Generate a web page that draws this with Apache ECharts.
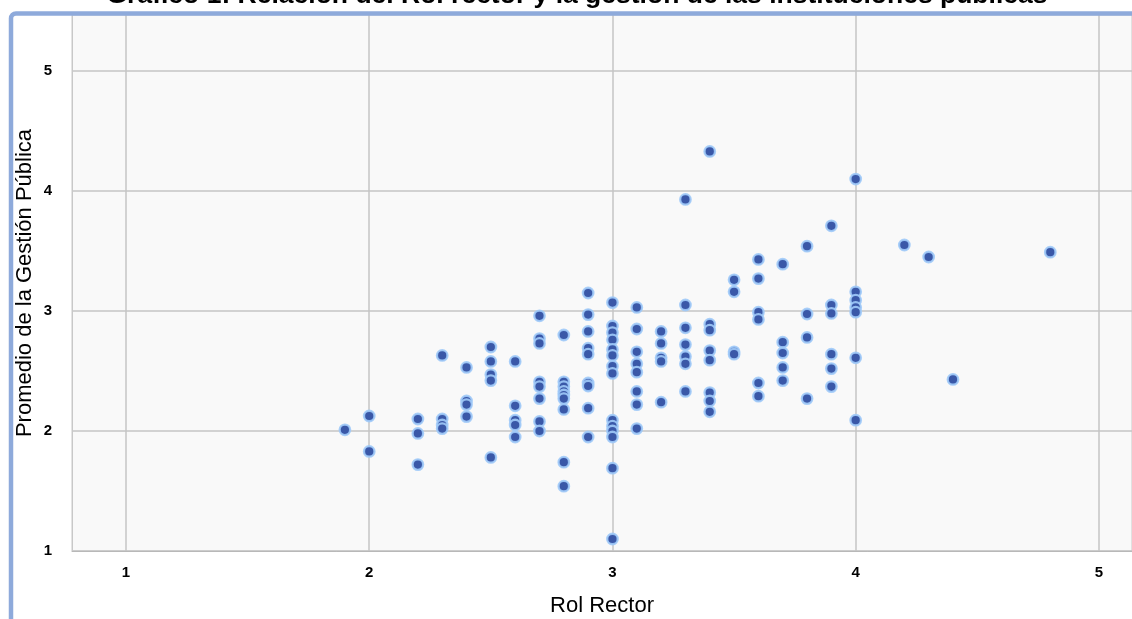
<!DOCTYPE html>
<html>
<head>
<meta charset="utf-8">
<script src="https://cdn.jsdelivr.net/npm/echarts@6/dist/echarts.min.js"></script>
<style>
  html, body { margin: 0; padding: 0; background: #ffffff; }
  #chart { width: 1132px; height: 619px; }
</style>
</head>
<body>
<div id="chart"></div>
<script>
// Rol Rector (x) and Promedio de la Gestión Pública (y)
const rolRector = [
  1.9,
  2.0, 2.0,
  2.2, 2.2, 2.2,
  2.3, 2.3, 2.3, 2.3,
  2.4, 2.4, 2.4, 2.4,
  2.5, 2.5, 2.5, 2.5, 2.5,
  2.6, 2.6, 2.6, 2.6, 2.6,
  2.7, 2.7, 2.7, 2.7, 2.7, 2.7, 2.7, 2.7,
  2.8, 2.8, 2.8, 2.8, 2.8, 2.8, 2.8, 2.8, 2.8,
  2.9, 2.9, 2.9, 2.9, 2.9, 2.9, 2.9, 2.9, 2.9,
  3.0, 3.0, 3.0, 3.0, 3.0, 3.0, 3.0, 3.0, 3.0, 3.0, 3.0, 3.0, 3.0, 3.0,
  3.1, 3.1, 3.1, 3.1, 3.1, 3.1, 3.1, 3.1,
  3.2, 3.2, 3.2, 3.2, 3.2,
  3.3, 3.3, 3.3, 3.3, 3.3, 3.3, 3.3,
  3.4, 3.4, 3.4, 3.4, 3.4, 3.4, 3.4, 3.4,
  3.5, 3.5, 3.5, 3.5,
  3.6, 3.6, 3.6, 3.6, 3.6, 3.6,
  3.7, 3.7, 3.7, 3.7, 3.7,
  3.8, 3.8, 3.8, 3.8,
  3.9, 3.9, 3.9, 3.9, 3.9, 3.9,
  4.0, 4.0, 4.0, 4.0, 4.0, 4.0, 4.0,
  4.2, 4.3, 4.4, 4.8
];
const gestionPublica = [
  2.01,
  2.125, 1.83,
  2.10, 1.98, 1.72,
  2.63, 2.10, 2.05, 2.02,
  2.53, 2.25, 2.22, 2.12,
  2.70, 2.58, 2.47, 2.42, 1.78,
  2.58, 2.21, 2.09, 2.05, 1.95,
  2.96, 2.77, 2.73, 2.41, 2.37, 2.27, 2.08, 2.00,
  2.80, 2.41, 2.37, 2.33, 2.30, 2.27, 2.18, 1.74, 1.54,
  3.15, 2.97, 2.83, 2.69, 2.64, 2.40, 2.375, 2.19, 1.95,
  3.07, 2.875, 2.82, 2.76, 2.68, 2.63, 2.54, 2.48, 2.09, 2.04, 2.00, 1.95, 1.69, 1.10,
  3.03, 2.85, 2.66, 2.56, 2.49, 2.33, 2.22, 2.02,
  2.83, 2.73, 2.61, 2.58, 2.24,
  3.93, 3.05, 2.86, 2.72, 2.62, 2.56, 2.33,
  4.33, 2.89, 2.84, 2.67, 2.59, 2.32, 2.25, 2.16,
  3.26, 3.16, 2.66, 2.64,
  3.43, 3.27, 2.99, 2.93, 2.40, 2.29,
  3.39, 2.74, 2.65, 2.53, 2.42,
  3.54, 2.975, 2.78, 2.27,
  3.71, 3.05, 2.98, 2.64, 2.52, 2.37,
  4.10, 3.16, 3.09, 3.03, 2.99, 2.61, 2.09,
  3.55, 3.45, 2.43, 3.49
];
const xTicks = [1, 2, 3, 4, 5];
const yTicks = [1, 2, 3, 4, 5];

const chartTitle = 'Gráfico 1: Relación del Rol rector y la gestión de las instituciones públicas';
const xName = 'Rol Rector';
const yName = 'Promedio de la Gestión Pública';

const points = rolRector.map((x, i) => [x, gestionPublica[i]]);

const chart = echarts.init(document.getElementById('chart'), null, { renderer: 'canvas' });
const fontFamily = '"Liberation Sans", Arial, sans-serif';

chart.setOption({
  backgroundColor: '#ffffff',
  animation: false,
  graphic: [
    {
      type: 'text',
      z: 100,
      x: 577,
      y: -4,
      style: {
        text: chartTitle,
        align: 'center',
        verticalAlign: 'middle',
        font: 'bold 26.5px "Liberation Sans", Arial, sans-serif',
        fill: '#000'
      }
    },
    {
      type: 'rect',
      z: 100,
      shape: { x: 11, y: 13.5, width: 1300, height: 800, r: 5 },
      style: { fill: 'none', stroke: '#8eaadb', lineWidth: 4.5 }
    }
  ],
  grid: {
    left: 72, right: 0, top: 15, bottom: 68,
    outerBoundsMode: 'none',
    containLabel: false,
    show: true,
    backgroundColor: '#f9f9f9',
    borderColor: '#c8c8c8',
    borderWidth: 1
  },
  xAxis: {
    type: 'value',
    min: 0.778,
    max: 5.136,
    name: xName,
    nameLocation: 'middle',
    nameGap: 44,
    nameMoveOverlap: false,
    nameTextStyle: { fontFamily, fontSize: 22, color: '#000' },
    axisLine: { show: true, lineStyle: { color: '#b8b8b8', width: 1 } },
    axisTick: { show: false, customValues: xTicks },
    axisLabel: {
      customValues: xTicks,
      fontFamily, fontSize: 15, fontWeight: 'bold', color: '#000', margin: 14
    },
    splitLine: { show: true, lineStyle: { color: '#c4c4c4', width: 1.5 } }
  },
  yAxis: {
    type: 'value',
    min: 1,
    max: 5.467,
    name: yName,
    nameLocation: 'middle',
    nameGap: 36,
    nameMoveOverlap: false,
    nameTextStyle: { fontFamily, fontSize: 22, color: '#000' },
    axisLine: { show: true, lineStyle: { color: '#c8c8c8', width: 1 } },
    axisTick: { show: false, customValues: yTicks },
    axisLabel: {
      customValues: yTicks,
      fontFamily, fontSize: 15, fontWeight: 'bold', color: '#000', margin: 20
    },
    splitLine: { show: true, lineStyle: { color: '#c4c4c4', width: 1.5 } }
  },
  series: [{
    type: 'scatter',
    data: points,
    symbol: 'circle',
    symbolSize: 10.5,
    itemStyle: {
      color: '#3a58a8',
      borderColor: 'rgba(160,202,248,0.9)',
      borderWidth: 2.3,
      opacity: 1
    }
  }]
});
</script>
</body>
</html>
